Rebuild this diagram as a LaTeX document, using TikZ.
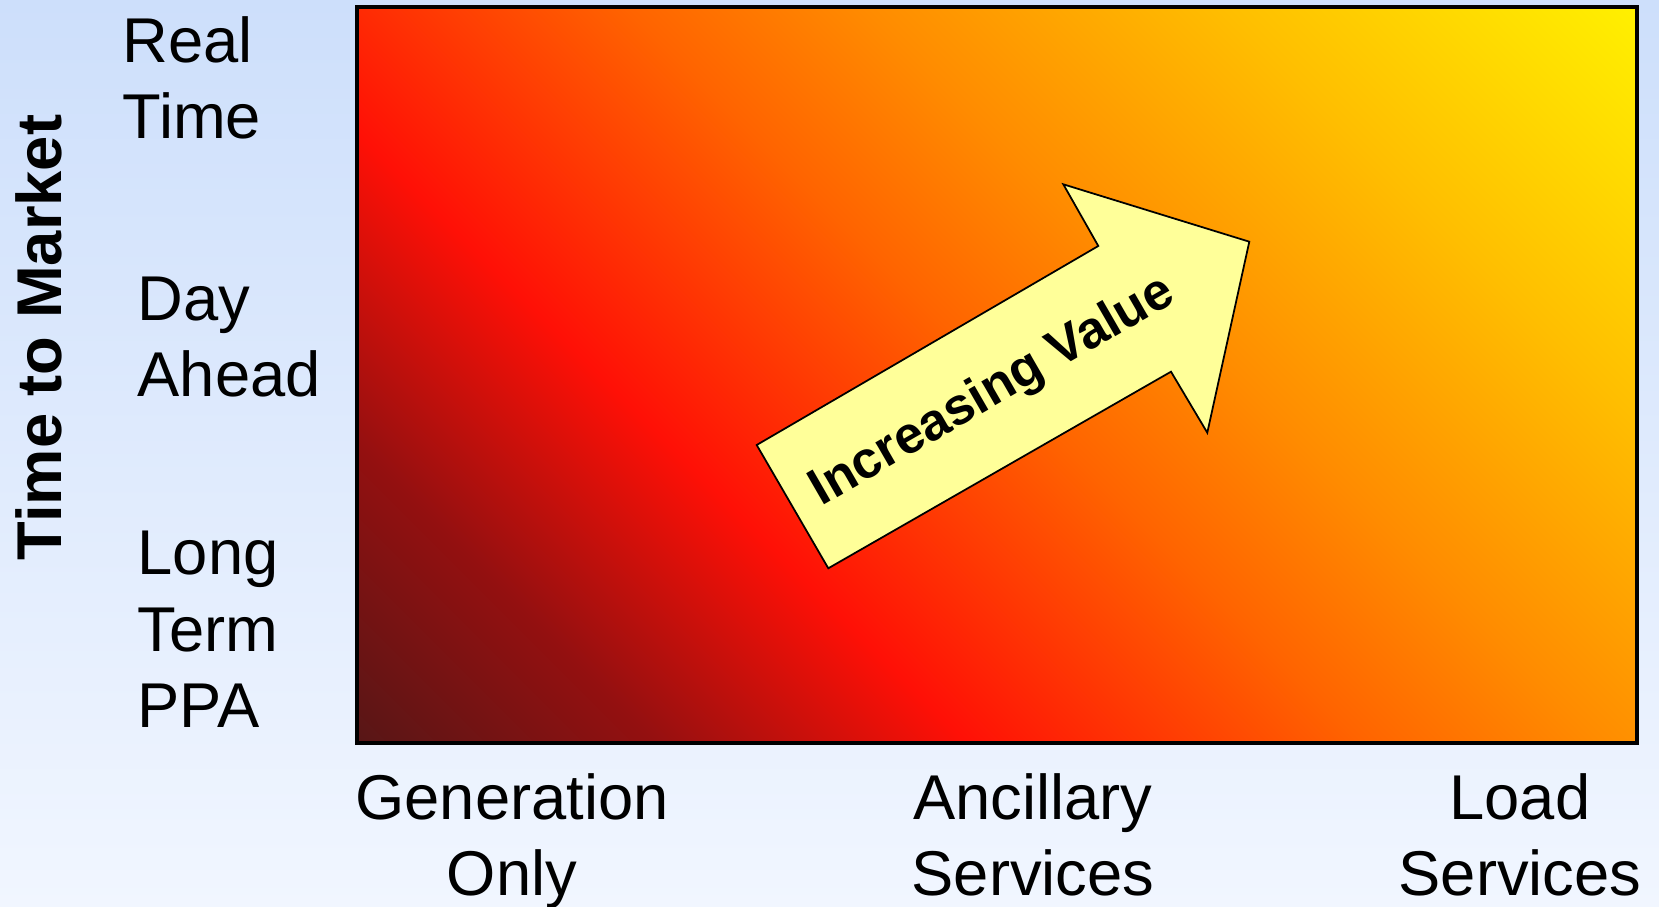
\documentclass[tikz,border=0pt]{standalone}
\usepackage{fontspec}
\setmainfont{Liberation Sans}
\usetikzlibrary{positioning}

\definecolor{bgtop}{RGB}{205,223,251}
\definecolor{bgbottom}{RGB}{241,246,255}
\definecolor{deepred}{RGB}{88,22,22}
\definecolor{maroon}{RGB}{148,16,16}
\definecolor{hotred}{RGB}{255,16,6}
\definecolor{redorange}{RGB}{255,100,0}
\definecolor{darkorange}{RGB}{255,140,0}
\definecolor{amber}{RGB}{255,190,0}
\definecolor{lemon}{RGB}{255,240,0}
\definecolor{paleyellow}{RGB}{255,255,153}

% diagonal colour ramp for the market field
\pgfdeclarehorizontalshading{valueshade}{100bp}{%
  color(0bp)=(deepred); color(14.64bp)=(deepred); color(25bp)=(maroon);
  color(36bp)=(hotred); color(50bp)=(redorange); color(58.5bp)=(darkorange);
  color(71bp)=(amber); color(85.36bp)=(lemon); color(100bp)=(lemon)}

\begin{document}
\begin{tikzpicture}[x=0.01cm,y=-0.01cm,
    side text/.style={font=\fontsize{18}{21.8}\selectfont,align=left,inner sep=0pt,anchor=base west},
    foot text/.style={font=\fontsize{18}{21.8}\selectfont,align=center,inner sep=0pt,anchor=base},
    arrow body/.style={draw=black,line width=0.5pt,fill=paleyellow,line join=miter}]

    % background
    \shade[top color=bgtop,bottom color=bgbottom] (0,0) rectangle (1659,907);
    \useasboundingbox (0,0) rectangle (1659,907);

    % the field
    \shadedraw[shading=valueshade,shading angle=45,line width=1pt] (357,7) rectangle (1637,743);

    % arrow outline
    \coordinate (tailtop) at (756.7,445);
    \coordinate (neckup) at (1098.3,246);
    \coordinate (barbup) at (1063.3,184.3);
    \coordinate (tip) at (1249.3,241.7);
    \coordinate (barblow) at (1207.3,432.7);
    \coordinate (necklow) at (1171,371.7);
    \coordinate (tailbot) at (828.3,568.3);
    \draw[arrow body] (tailtop) -- (neckup) -- (barbup) -- (tip) -- (barblow) -- (necklow) -- (tailbot) -- cycle;
    \node[font=\fontsize{14.8}{17}\selectfont\bfseries,rotate=30,inner sep=0pt] (increase) at (993,392) {Increasing Value};

    % vertical axis (base = last line)
    \node[font=\fontsize{18}{21.8}\selectfont\bfseries,rotate=90,anchor=base,inner sep=0pt] (timemarket) at (61,337.5) {Time to Market};
    \node[side text] (realtime) at (122,139) {Real\\Time};
    \node[side text] (dayahead) at (137,397) {Day\\Ahead};
    \node[side text] (longterm) at (137,728) {Long\\Term\\PPA};

    % horizontal axis
    \node[foot text] (genonly) at (512,896) {Generation\\Only};
    \node[foot text] (ancillary) at (1033,896) {Ancillary\\Services};
    \node[foot text] (loadsvc) at (1520,896) {Load\\Services};
\end{tikzpicture}
\end{document}
